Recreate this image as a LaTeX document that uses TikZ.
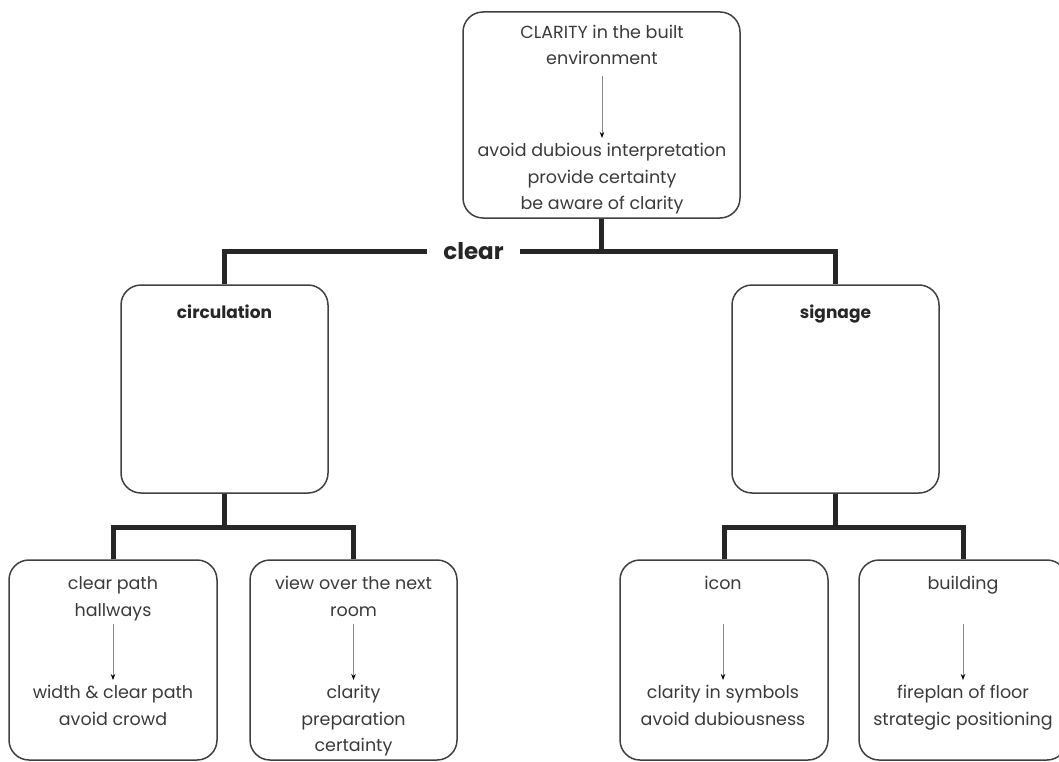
\documentclass[tikz,border=0pt]{standalone}
\usepackage{fontspec}
\setmainfont{Poppins}
\usetikzlibrary{arrows.meta}
\definecolor{inkgray}{HTML}{3A3A3A}
\definecolor{boxgray}{HTML}{404040}
\definecolor{bargray}{HTML}{262626}
\definecolor{flowgray}{HTML}{8A8A8A}
\begin{document}
\begin{tikzpicture}[x=1pt,y=-1pt,
  box/.style={draw=boxgray, line width=1.5pt, rounded corners=20pt, inner sep=0pt},
  txt/.style={align=center, font=\fontsize{17.5}{26.5}\selectfont, text=inkgray, inner sep=0pt, anchor=north},
  head/.style={font=\fontsize{17}{20}\selectfont\bfseries, text=bargray, inner sep=0pt, anchor=base},
  bar/.style={draw=bargray, line width=5pt},
  flow/.style={draw=flowgray, line width=0.9pt, -{Stealth[length=6pt,width=4.5pt,black]}}]
\useasboundingbox (0,0) rectangle (1059,762);

% boxes
\node[box, minimum width=277pt, minimum height=206pt] (top) at (601.5,115) {};
\node[box, minimum width=207pt, minimum height=208pt] (circ) at (224.5,389) {};
\node[box, minimum width=207pt, minimum height=208pt] (sign) at (835.5,389) {};
\node[box, minimum width=208pt, minimum height=200pt] (b1) at (113,660) {};
\node[box, minimum width=207pt, minimum height=200pt] (b2) at (353.5,660) {};
\node[box, minimum width=208pt, minimum height=200pt] (b3) at (724,660) {};
\node[box, minimum width=208pt, minimum height=200pt] (b4) at (963,660) {};

% top box texts
\node[txt] (topa) at (602,19.5) {\strut CLARITY in the built\\environment\strut};
\node[txt] (topb) at (602,138) {\strut avoid dubious interpretation\\provide certainty\\be aware of clarity\strut};
\draw[flow, shorten <=3pt] (topa) -- (topb);

% level labels
\node[head] (circl) at (224.5,318) {circulation};
\node[head] (signl) at (835.5,318) {signage};

% bottom texts
\node[txt] (b1a) at (113,571) {\strut clear path\\hallways\strut};
\node[txt] (b1b) at (113,680) {\strut width \& clear path\\avoid crowd\strut};
\draw[flow] (b1a) -- (b1b);

\node[txt] (b2a) at (353.5,571) {\strut view over the next\\room\strut};
\node[txt] (b2b) at (353.5,680) {\strut clarity\\preparation\\certainty\strut};
\draw[flow] (b2a) -- (b2b);

\node[txt] (b3a) at (723,571) {\strut icon\strut};
\node[txt] (b3b) at (723,680) {\strut clarity in symbols\\avoid dubiousness\strut};
\draw[flow, shorten <=26.5pt] (b3a) -- (b3b);

\node[txt] (b4a) at (963,571) {\strut building\strut};
\node[txt] (b4b) at (963,680) {\strut fireplan of floor\\strategic positioning\strut};
\draw[flow, shorten <=26.5pt] (b4a) -- (b4b);

% main branch
\node[font=\fontsize{23}{25}\selectfont\bfseries, text=bargray, inner sep=0pt, minimum width=93pt] (clear) at (473.5,251) {clear};
\draw[bar] (top.south) -- (top.south |- clear.east);
\draw[bar] (clear.west) -| (circ.north);
\draw[bar] (clear.east) -| (sign.north);

% sub branches
\coordinate (cj) at (224.5,527);
\coordinate (sj) at (835.5,527);
\draw[bar] (circ.south) -- (cj);
\draw[bar] (b1.north) |- (cj) -| (b2.north);
\draw[bar] (sign.south) -- (sj);
\draw[bar] (b3.north) |- (sj) -| (b4.north);
\end{tikzpicture}
\end{document}
